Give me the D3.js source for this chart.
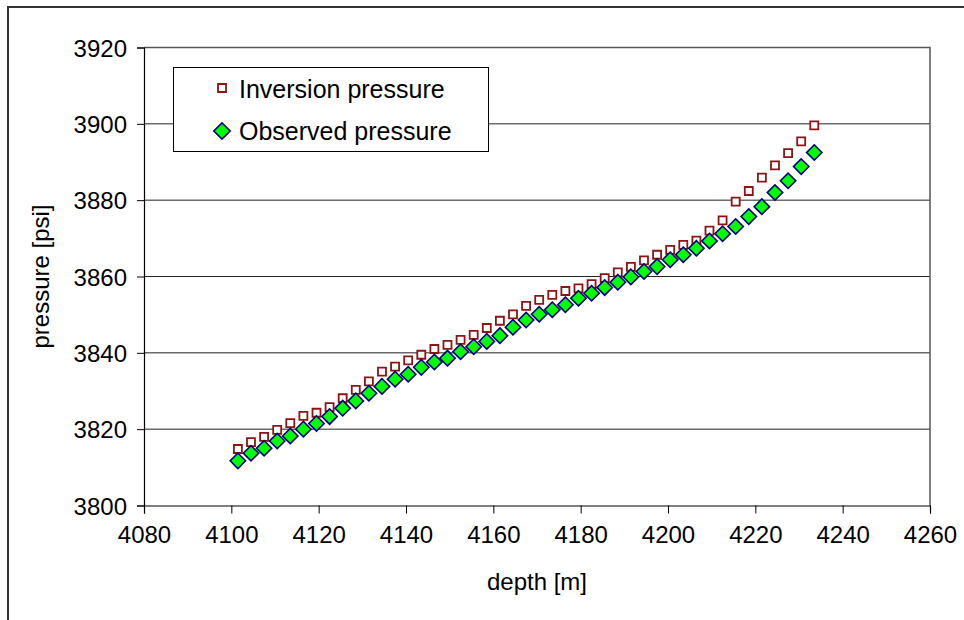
<!DOCTYPE html>
<html>
<head>
<meta charset="utf-8">
<script src="https://d3js.org/d3.v7.min.js"></script>
<style>
  body { margin: 0; background: #fff; }
  text { font-family: "Liberation Sans", Arial, sans-serif; fill: #000; }
</style>
</head>
<body>
<svg width="964" height="620"></svg>
<script>
// depth [m] for each sample
const depth = [4101.5, 4104.5, 4107.5, 4110.5, 4113.5, 4116.5, 4119.5, 4122.5, 4125.5, 4128.5,
  4131.5, 4134.5, 4137.5, 4140.5, 4143.5, 4146.5, 4149.5, 4152.5, 4155.5, 4158.5,
  4161.5, 4164.5, 4167.5, 4170.5, 4173.5, 4176.5, 4179.5, 4182.5, 4185.5, 4188.5,
  4191.5, 4194.5, 4197.5, 4200.5, 4203.5, 4206.5, 4209.5, 4212.5, 4215.5, 4218.5,
  4221.5, 4224.5, 4227.5, 4230.5, 4233.5];
const inversion = [3814.8, 3816.6, 3818.0, 3819.8, 3821.6, 3823.5, 3824.3, 3825.8, 3828.1, 3830.3,
  3832.5, 3835.1, 3836.4, 3838.0, 3839.5, 3841.0, 3842.1, 3843.4, 3844.7, 3846.5,
  3848.4, 3850.1, 3852.3, 3853.9, 3855.2, 3856.2, 3856.9, 3858.0, 3859.6, 3861.1,
  3862.5, 3864.2, 3865.7, 3867.0, 3868.3, 3869.4, 3872.0, 3874.7, 3879.6, 3882.4,
  3885.9, 3889.1, 3892.3, 3895.4, 3899.6];
const observed = [3811.7, 3813.7, 3815.0, 3816.9, 3818.2, 3820.0, 3821.5, 3823.3, 3825.5, 3827.4,
  3829.4, 3831.2, 3833.1, 3834.4, 3836.2, 3837.6, 3838.6, 3840.3, 3841.6, 3843.0,
  3844.5, 3846.7, 3848.6, 3850.1, 3851.3, 3852.6, 3854.3, 3855.6, 3857.1, 3858.5,
  3859.9, 3861.3, 3862.6, 3864.4, 3865.7, 3867.4, 3869.3, 3871.2, 3873.1, 3875.7,
  3878.3, 3882.0, 3885.1, 3888.8, 3892.5];
const xTicks = [4080, 4100, 4120, 4140, 4160, 4180, 4200, 4220, 4240, 4260];
const yTicks = [3800, 3820, 3840, 3860, 3880, 3900, 3920];
const seriesNames = ["Inversion pressure", "Observed pressure"];

const svg = d3.select("svg");
const m = { left: 144, right: 930, top: 47.5, bottom: 505.5 };

const x = d3.scaleLinear().domain([4080, 4260]).range([m.left, m.right]);
const y = d3.scaleLinear().domain([3800, 3920]).range([m.bottom, m.top]);

// outer chart frame
svg.append("rect")
  .attr("x", 8).attr("y", 7).attr("width", 1000).attr("height", 700)
  .attr("fill", "none").attr("stroke", "#333").attr("stroke-width", 2);

// gridlines
svg.append("g")
  .selectAll("line")
  .data(yTicks.filter(d => d > 3800))
  .enter().append("line")
  .attr("x1", m.left).attr("x2", m.right)
  .attr("y1", d => y(d)).attr("y2", d => y(d))
  .attr("stroke", "#222").attr("stroke-width", 1);

// plot area border (top / right)
svg.append("path")
  .attr("d", `M${m.left},${m.top}H${m.right}V${m.bottom}`)
  .attr("fill", "none").attr("stroke", "#555").attr("stroke-width", 1.5);

const xAxis = d3.axisBottom(x).tickValues(xTicks).tickSize(8).tickPadding(12).tickFormat(d3.format("d"));
const yAxis = d3.axisLeft(y).tickValues(yTicks).tickSize(7).tickPadding(10).tickFormat(d3.format("d"));

const gx = svg.append("g").attr("transform", `translate(0,${m.bottom})`).call(xAxis);
const gy = svg.append("g").attr("transform", `translate(${m.left},0)`).call(yAxis);
[gx, gy].forEach(g => {
  g.select(".domain").attr("stroke", "#000").attr("stroke-width", 1.2);
  g.selectAll(".tick line").attr("stroke", "#000");
  g.selectAll(".tick text").style("font-size", "24px").attr("fill", "#000")
    .style("font-family", "'Liberation Sans', Arial, sans-serif");
});
gy.selectAll(".tick text").attr("dy", "0.36em");

// axis titles
svg.append("text")
  .attr("x", (m.left + m.right) / 2).attr("y", 590)
  .attr("text-anchor", "middle").style("font-size", "24px")
  .text("depth [m]");
svg.append("text")
  .attr("transform", `translate(49,${(m.top + m.bottom) / 2}) rotate(-90)`)
  .attr("text-anchor", "middle").style("font-size", "24px")
  .text("pressure [psi]");

const pts = depth.map((d, i) => ({ d: d, inv: inversion[i], obs: observed[i] }));

const squareSym = d3.symbol().type(d3.symbolSquare).size(64);
const diamondSym = d3.symbol().type(d3.symbolSquare).size(118);

// inversion pressure: open dark red squares
svg.append("g")
  .selectAll("path")
  .data(pts)
  .enter().append("path")
  .attr("d", squareSym)
  .attr("transform", p => `translate(${x(p.d)},${y(p.inv)})`)
  .attr("fill", "#fff").attr("stroke", "#8c1414").attr("stroke-width", 1.8);

// observed pressure: green diamonds with navy outline
svg.append("g")
  .selectAll("path")
  .data(pts)
  .enter().append("path")
  .attr("d", diamondSym)
  .attr("transform", p => `translate(${x(p.d)},${y(p.obs)}) rotate(45)`)
  .attr("fill", "#00ff00").attr("stroke", "#000080").attr("stroke-width", 1.6);

// legend
const lg = svg.append("g");
lg.append("rect")
  .attr("x", 173.5).attr("y", 67.5).attr("width", 315).attr("height", 84)
  .attr("fill", "#fff").attr("stroke", "#000").attr("stroke-width", 1);
lg.append("path").attr("d", squareSym)
  .attr("transform", "translate(222,88)")
  .attr("fill", "#fff").attr("stroke", "#8c1414").attr("stroke-width", 1.8);
lg.append("path").attr("d", d3.symbol().type(d3.symbolSquare).size(135))
  .attr("transform", "translate(222,131) rotate(45)")
  .attr("fill", "#00ff00").attr("stroke", "#000080").attr("stroke-width", 1.6);
lg.selectAll("text.lbl")
  .data(seriesNames)
  .enter().append("text")
  .attr("class", "lbl")
  .attr("x", 239).attr("y", (d, i) => 98 + i * 42)
  .style("font-size", "25px")
  .text(d => d);
</script>
</body>
</html>
